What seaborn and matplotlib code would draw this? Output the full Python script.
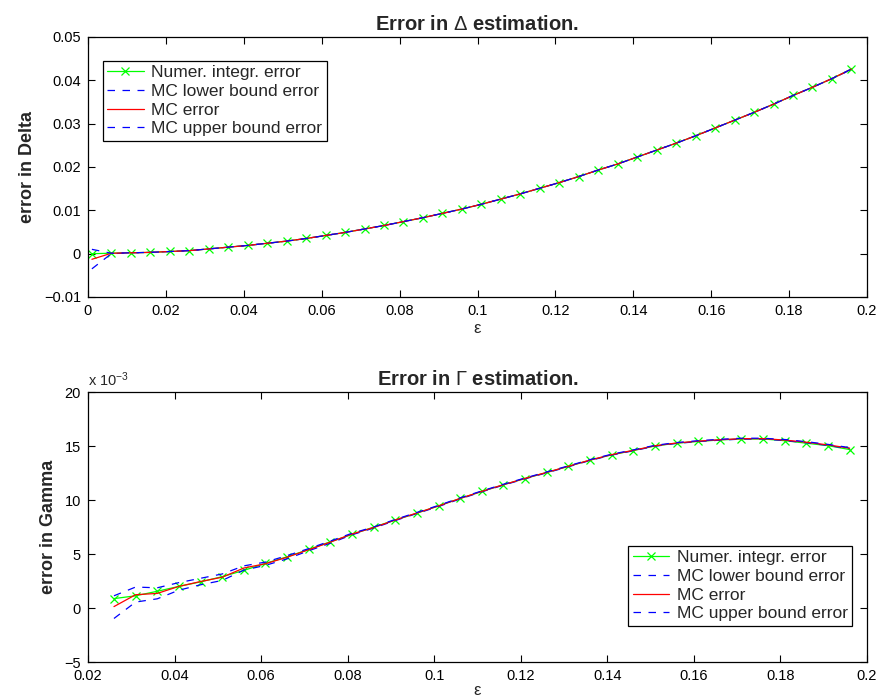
import numpy as np
import pandas as pd
import matplotlib
matplotlib.use("Agg")
import matplotlib.pyplot as plt
import seaborn as sns

# ---------------- data: Delta (top) ----------------
eps_delta = [0.001, 0.006, 0.011, 0.016, 0.021, 0.026, 0.031, 0.036, 0.041, 0.046,
             0.051, 0.056, 0.061, 0.066, 0.071, 0.076, 0.081, 0.086, 0.091, 0.096,
             0.101, 0.106, 0.111, 0.116, 0.121, 0.126, 0.131, 0.136, 0.141, 0.146,
             0.151, 0.156, 0.161, 0.166, 0.171, 0.176, 0.181, 0.186, 0.191, 0.196]
delta_numer = [0.0000, 0.0001, 0.0002, 0.0003, 0.0005, 0.0007, 0.0011, 0.0015, 0.0019, 0.0024,
               0.0029, 0.0035, 0.0042, 0.0049, 0.0057, 0.0065, 0.0074, 0.0083, 0.0093, 0.0103,
               0.0114, 0.0126, 0.0138, 0.0151, 0.0164, 0.0178, 0.0193, 0.0207, 0.0223, 0.0239,
               0.0255, 0.0272, 0.0290, 0.0308, 0.0326, 0.0345, 0.0365, 0.0384, 0.0404, 0.0426]
delta_mc = [-0.0013, 0.0001, 0.0002, 0.0003, 0.0005, 0.0007, 0.0011, 0.0015, 0.0019, 0.0024,
            0.0029, 0.0035, 0.0042, 0.0049, 0.0057, 0.0065, 0.0074, 0.0083, 0.0093, 0.0103,
            0.0114, 0.0126, 0.0138, 0.0151, 0.0164, 0.0178, 0.0193, 0.0207, 0.0223, 0.0239,
            0.0255, 0.0272, 0.0290, 0.0308, 0.0326, 0.0345, 0.0365, 0.0384, 0.0404, 0.0426]
delta_lower = [-0.0035, 0.0000, 0.0002, 0.0003, 0.0005, 0.0007, 0.0011, 0.0015, 0.0019, 0.0024,
               0.0029, 0.0035, 0.0042, 0.0049, 0.0057, 0.0065, 0.0074, 0.0083, 0.0093, 0.0103,
               0.0114, 0.0126, 0.0138, 0.0151, 0.0164, 0.0178, 0.0193, 0.0207, 0.0223, 0.0239,
               0.0255, 0.0272, 0.0290, 0.0308, 0.0326, 0.0345, 0.0365, 0.0384, 0.0404, 0.0425]
delta_upper = [0.0010, 0.0001, 0.0002, 0.0003, 0.0005, 0.0007, 0.0011, 0.0015, 0.0019, 0.0024,
               0.0029, 0.0035, 0.0042, 0.0049, 0.0057, 0.0065, 0.0074, 0.0083, 0.0093, 0.0103,
               0.0114, 0.0126, 0.0138, 0.0151, 0.0164, 0.0178, 0.0193, 0.0207, 0.0223, 0.0239,
               0.0255, 0.0272, 0.0290, 0.0308, 0.0326, 0.0345, 0.0365, 0.0384, 0.0404, 0.0426]

# ---------------- data: Gamma (bottom), in units of 1e-3 ----------------
eps_gamma = [0.026, 0.031, 0.036, 0.041, 0.046, 0.051, 0.056, 0.061, 0.066, 0.071,
             0.076, 0.081, 0.086, 0.091, 0.096, 0.101, 0.106, 0.111, 0.116, 0.121,
             0.126, 0.131, 0.136, 0.141, 0.146, 0.151, 0.156, 0.161, 0.166, 0.171,
             0.176, 0.181, 0.186, 0.191, 0.196]
gamma_numer = [0.87, 1.13, 1.55, 2.00, 2.42, 2.90, 3.48, 4.13, 4.74, 5.42,
               6.13, 6.81, 7.49, 8.14, 8.78, 9.46, 10.14, 10.79, 11.41, 11.99,
               12.55, 13.11, 13.69, 14.18, 14.58, 15.00, 15.26, 15.42, 15.56, 15.65,
               15.65, 15.49, 15.26, 15.03, 14.67]
gamma_mc = [0.13, 1.23, 1.35, 2.00, 2.45, 2.85, 3.70, 4.10, 4.70, 5.40,
            6.10, 6.85, 7.45, 8.15, 8.80, 9.45, 10.15, 10.80, 11.42, 12.00,
            12.56, 13.12, 13.70, 14.20, 14.60, 15.02, 15.28, 15.45, 15.58, 15.68,
            15.68, 15.55, 15.35, 15.10, 14.80]
gamma_lower = [-0.97, 0.55, 0.85, 1.65, 2.15, 2.55, 3.50, 3.95, 4.55, 5.30,
               6.00, 6.78, 7.40, 8.10, 8.75, 9.40, 10.10, 10.76, 11.38, 11.96,
               12.52, 13.08, 13.66, 14.16, 14.56, 14.98, 15.24, 15.41, 15.54, 15.64,
               15.64, 15.50, 15.30, 15.05, 14.75]
gamma_upper = [1.13, 1.94, 1.87, 2.35, 2.75, 3.15, 3.90, 4.25, 4.85, 5.50,
               6.20, 6.92, 7.50, 8.20, 8.85, 9.50, 10.20, 10.84, 11.46, 12.04,
               12.60, 13.16, 13.74, 14.24, 14.64, 15.06, 15.32, 15.49, 15.62, 15.72,
               15.72, 15.60, 15.40, 15.15, 14.85]

labels = ["Numer. integr. error", "MC lower bound error", "MC error", "MC upper bound error"]

sns.set_style("ticks")
plt.rcParams['font.family'] = ['Liberation Sans', 'DejaVu Sans']
plt.rcParams['mathtext.fontset'] = 'custom'
plt.rcParams['mathtext.rm'] = 'Liberation Sans'
plt.rcParams['mathtext.it'] = 'Liberation Sans:italic'
plt.rcParams['mathtext.bf'] = 'Liberation Sans:bold'

fig = plt.figure(figsize=(8.82, 6.99), dpi=100)
ax1 = fig.add_axes([88/882, 1-297/699, (867-88)/882, 260/699])
ax2 = fig.add_axes([88/882, 1-662/699, (867-88)/882, 270/699])

GREEN = (0, 1, 0)
BLUE = (0, 0, 1)
RED = (1, 0, 0)
DASH = (0, (6, 6))


def draw(ax, x, numer, lower, mc, upper):
    sns.lineplot(x=x, y=numer, ax=ax, color=GREEN, marker='x', markersize=6,
                 markeredgewidth=0.9, markeredgecolor=GREEN, linewidth=0.9,
                 label=labels[0], sort=False, errorbar=None)
    sns.lineplot(x=x, y=lower, ax=ax, color=BLUE, linestyle=DASH, linewidth=0.9,
                 label=labels[1], sort=False, errorbar=None)
    sns.lineplot(x=x, y=mc, ax=ax, color=RED, linewidth=0.9,
                 label=labels[2], sort=False, errorbar=None)
    sns.lineplot(x=x, y=upper, ax=ax, color=BLUE, linestyle=DASH, linewidth=0.9,
                 label=labels[3], sort=False, errorbar=None)


draw(ax1, eps_delta, delta_numer, delta_lower, delta_mc, delta_upper)
draw(ax2, eps_gamma, gamma_numer, gamma_lower, gamma_mc, gamma_upper)

for ax in (ax1, ax2):
    ax.tick_params(direction='in', top=True, right=True, length=5, width=0.8,
                   labelsize=10.5, colors='black', pad=5)
    for s in ax.spines.values():
        s.set_visible(True)
        s.set_linewidth(0.9)
        s.set_color('black')
    ax.set_facecolor('white')

# top axes
ax1.set_xlim(0, 0.2)
ax1.set_ylim(-0.01, 0.05)
ax1.set_xticks([0, 0.02, 0.04, 0.06, 0.08, 0.1, 0.12, 0.14, 0.16, 0.18, 0.2])
ax1.set_xticklabels(["0", "0.02", "0.04", "0.06", "0.08", "0.1", "0.12", "0.14", "0.16", "0.18", "0.2"])
ax1.set_yticks([-0.01, 0, 0.01, 0.02, 0.03, 0.04, 0.05])
ax1.set_yticklabels(["\u22120.01", "0", "0.01", "0.02", "0.03", "0.04", "0.05"])
ax1.set_xlabel("ε", fontsize=12, labelpad=2)
ax1.set_ylabel("error in Delta", fontsize=13, fontweight='bold', labelpad=6)
ax1.set_title(r"Error in $\mathrm{\Delta}$ estimation.", fontsize=14.5, fontweight='bold', pad=5)

# bottom axes
ax2.set_xlim(0.02, 0.2)
ax2.set_ylim(-5, 20)
ax2.set_xticks([0.02, 0.04, 0.06, 0.08, 0.1, 0.12, 0.14, 0.16, 0.18, 0.2])
ax2.set_xticklabels(["0.02", "0.04", "0.06", "0.08", "0.1", "0.12", "0.14", "0.16", "0.18", "0.2"])
ax2.set_yticks([-5, 0, 5, 10, 15, 20])
ax2.set_yticklabels(["\u22125", "0", "5", "10", "15", "20"])
ax2.set_xlabel("ε", fontsize=12, labelpad=0)
ax2.set_ylabel("error in Gamma", fontsize=13, fontweight='bold', labelpad=5)
ax2.set_title(r"Error in $\mathrm{\Gamma}$ estimation.", fontsize=14.5, fontweight='bold', pad=5)
ax2.text(0.0, 1.012, r"x 10$^{-3}$", transform=ax2.transAxes, fontsize=10.5,
         ha='left', va='bottom')

leg_kw = dict(frameon=True, fancybox=False, framealpha=1, edgecolor='black',
              fontsize=12.5, handlelength=2.1, borderpad=0.25, labelspacing=0.2,
              handletextpad=0.45, borderaxespad=0.0)
l1 = ax1.legend(loc='upper left', bbox_to_anchor=(0.019, 0.908), **leg_kw)
l2 = ax2.legend(loc='lower right', bbox_to_anchor=(0.981, 0.135), **leg_kw)
for l in (l1, l2):
    l.get_frame().set_linewidth(0.9)

fig.savefig("out.png", dpi=100, facecolor='white')
